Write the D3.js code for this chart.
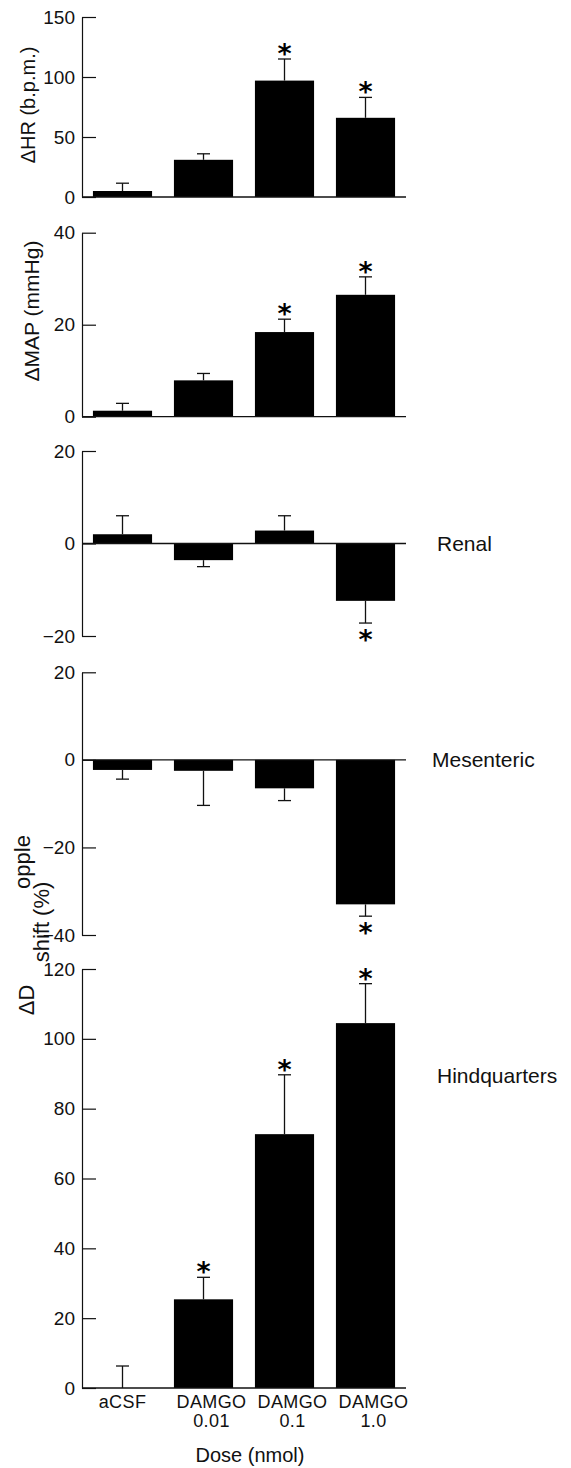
<!DOCTYPE html>
<html>
<head>
<meta charset="utf-8">
<script src="https://cdn.jsdelivr.net/npm/d3@7"></script>
<style>
  body { margin: 0; background: #fff; }
  svg { display: block; font-family: "Liberation Sans", Arial, Helvetica, sans-serif; }
</style>
</head>
<body>
<svg id="chart" width="571" height="1468"></svg>
<script>
// doses
const categories = ['aCSF', 'DAMGO 0.01', 'DAMGO 0.1', 'DAMGO 1.0'];

// heart rate (b.p.m.)
const hrMean = [5, 31, 97, 66];
const hrSem = [6.5, 5, 18, 17];
const hrStar = [false, false, true, true];
const hrTicks = [0, 50, 100, 150];

// mean arterial pressure (mmHg)
const mapMean = [1.3, 7.9, 18.4, 26.5];
const mapSem = [1.6, 1.5, 2.8, 3.9];
const mapStar = [false, false, true, true];
const mapTicks = [0, 20, 40];

// doppler shift (%), renal
const renalMean = [2.0, -3.6, 2.8, -12.4];
const renalSem = [4.0, 1.4, 3.2, 4.8];
const renalStar = [false, false, false, true];
const renalTicks = [-20, 0, 20];

// doppler shift (%), mesenteric
const mesMean = [-2.3, -2.5, -6.5, -33.0];
const mesSem = [2.1, 7.9, 2.8, 2.7];
const mesStar = [false, false, false, true];
const mesTicks = [-40, -20, 0, 20];

// doppler shift (%), hindquarters
const hindMean = [0, 25.4, 72.7, 104.5];
const hindSem = [6.3, 6.3, 17, 11.3];
const hindStar = [false, true, true, true];
const hindTicks = [0, 20, 40, 60, 80, 100, 120];

const svg = d3.select('#chart');
const xLeft = 82, xRight = 406;
const ink = '#111';

const x = d3.scaleBand()
  .domain(categories)
  .range([xLeft, xRight])
  .paddingInner(0.27)
  .paddingOuter(0.135);

const panels = [
  { mean: hrMean, sem: hrSem, star: hrStar, ticks: hrTicks, domain: [0, 150], range: [197, 17] },
  { mean: mapMean, sem: mapSem, star: mapStar, ticks: mapTicks, domain: [0, 40], range: [416.7, 232.7] },
  { mean: renalMean, sem: renalSem, star: renalStar, ticks: renalTicks, domain: [-20, 20], range: [636, 451], side: 'Renal' },
  { mean: mesMean, sem: mesSem, star: mesStar, ticks: mesTicks, domain: [-40, 20], range: [935, 672.3], side: 'Mesenteric', sideX: 432 },
  { mean: hindMean, sem: hindSem, star: hindStar, ticks: hindTicks, domain: [0, 120], range: [1388, 969], side: 'Hindquarters', sideY: 1075 }
];

const fmt = d => d < 0 ? '\u2212' + Math.abs(d) : String(d);
const capW = 13;

panels.forEach(p => {
  const y = d3.scaleLinear().domain(p.domain).range(p.range);
  const g = svg.append('g');

  // y axis, ticks pointing inward
  const ax = g.append('g')
    .attr('transform', `translate(${xLeft},0)`)
    .call(d3.axisLeft(y)
      .tickValues(p.ticks)
      .tickSizeInner(-14)
      .tickSizeOuter(0)
      .tickPadding(7)
      .tickFormat(fmt));
  ax.select('.domain').attr('stroke', ink).attr('stroke-width', 1.2);
  ax.selectAll('.tick line').attr('stroke', ink).attr('stroke-width', 1.2);
  ax.selectAll('.tick text')
    .attr('fill', ink)
    .style('font-size', '19px')
    .style('font-family', '"Liberation Sans", Arial, sans-serif');

  // bars
  g.selectAll('rect.bar')
    .data(categories)
    .enter().append('rect')
    .attr('class', 'bar')
    .attr('x', c => x(c))
    .attr('width', x.bandwidth())
    .attr('y', (c, i) => y(Math.max(0, p.mean[i])))
    .attr('height', (c, i) => Math.abs(y(p.mean[i]) - y(0)))
    .attr('fill', '#000');

  // zero line
  g.append('line')
    .attr('x1', xLeft).attr('x2', xRight)
    .attr('y1', y(0)).attr('y2', y(0))
    .attr('stroke', ink).attr('stroke-width', 1.3);

  // error bars (one-sided, away from zero)
  categories.forEach((c, i) => {
    const cx = x(c) + x.bandwidth() / 2;
    const v = p.mean[i];
    const dir = v < 0 ? -1 : 1;
    const end = v + dir * p.sem[i];
    g.append('line')
      .attr('x1', cx).attr('x2', cx)
      .attr('y1', y(v)).attr('y2', y(end))
      .attr('stroke', ink).attr('stroke-width', 1.3);
    g.append('line')
      .attr('x1', cx - capW / 2).attr('x2', cx + capW / 2)
      .attr('y1', y(end)).attr('y2', y(end))
      .attr('stroke', ink).attr('stroke-width', 1.3);
    if (p.star[i]) {
      // star centre sits just past the error cap
      const sy = dir > 0 ? y(end) - 8 : y(end) + 14;
      g.append('text')
        .attr('x', cx)
        .attr('y', sy + 12)
        .attr('text-anchor', 'middle')
        .style('font-family', '"DejaVu Sans", sans-serif')
        .style('font-size', '27px')
        .style('font-weight', 'bold')
        .attr('fill', '#000')
        .text('*');
    }
  });

  if (p.side) {
    g.append('text')
      .attr('x', p.sideX || 437)
      .attr('y', p.sideY || y(0))
      .attr('dominant-baseline', 'central')
      .style('font-size', '21px')
      .attr('fill', ink)
      .text(p.side);
  }
});

// y titles
function vtext(txt, cx, cy, size) {
  svg.append('text')
    .attr('transform', `translate(${cx},${cy}) rotate(-90)`)
    .attr('text-anchor', 'middle')
    .attr('dominant-baseline', 'central')
    .style('font-size', size + 'px')
    .attr('fill', ink)
    .text(txt);
}
vtext('\u0394HR (b.p.m.)', 28, 105, 20);
vtext('\u0394MAP (mmHg)', 31, 311, 21);
// the scanned Doppler label is broken into pieces
vtext('opple', 22, 862, 22);
vtext('shift (%)', 41, 922, 22);
vtext('\u0394D', 26, 1000, 22);

// dose labels
const lab = svg.append('g').style('font-size', '18px').attr('fill', ink);
categories.forEach((c, i) => {
  const cx = x(c) + x.bandwidth() / 2 + (i > 0 ? 8 : 0);
  const parts = c.split(' ');
  parts.forEach((t, k) => {
    lab.append('text')
      .attr('x', cx)
      .attr('y', 1408 + k * 19)
      .attr('text-anchor', 'middle')
      .style('letter-spacing', '0.4px')
      .text(t);
  });
});

svg.append('text')
  .attr('x', 250)
  .attr('y', 1462)
  .attr('text-anchor', 'middle')
  .style('font-size', '20px')
  .attr('fill', ink)
  .text('Dose (nmol)');
</script>
</body>
</html>
